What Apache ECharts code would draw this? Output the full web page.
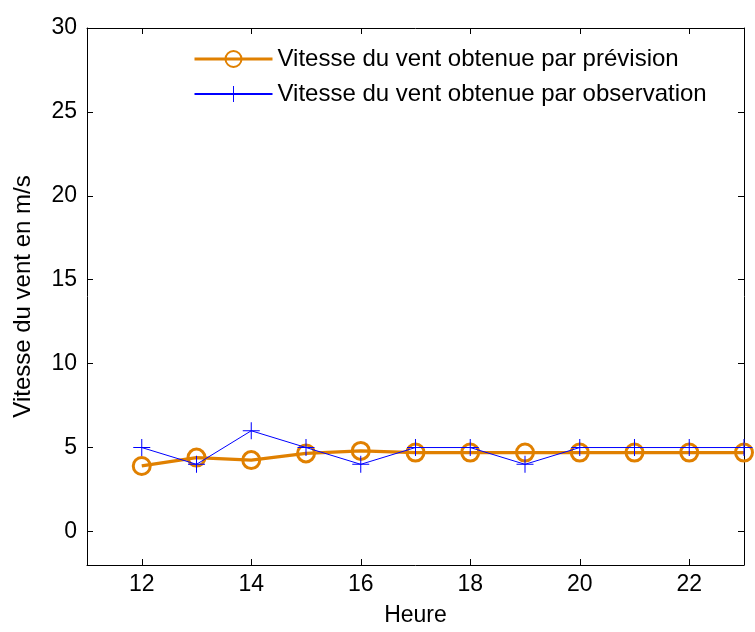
<!DOCTYPE html>
<html>
<head>
<meta charset="utf-8">
<script src="https://cdn.jsdelivr.net/npm/echarts@6/dist/echarts.min.js"></script>
<style>html,body{margin:0;padding:0;background:#fff;}#c{width:755px;height:632px;}</style>
</head>
<body>
<div id="c"></div>
<script>
var hours = [12, 13, 14, 15, 16, 17, 18, 19, 20, 21, 22, 23];
var prevision = [3.9, 4.4, 4.25, 4.65, 4.8, 4.7, 4.7, 4.7, 4.7, 4.7, 4.7, 4.7];
var observation = [5, 4, 6, 5, 4, 5, 5, 4, 5, 5, 5, 5];
var xTicks = [12, 14, 16, 18, 20, 22];
var yTicks = [0, 5, 10, 15, 20, 25, 30];
var seriesNames = ['Vitesse du vent obtenue par prévision', 'Vitesse du vent obtenue par observation'];
var xName = 'Heure';
var yName = 'Vitesse du vent en m/s';

var FONT = 'Liberation Sans, Arial, sans-serif';
var plusPath = 'path://M-0.06,-1 L0.06,-1 L0.06,-0.06 L1,-0.06 L1,0.06 L0.06,0.06 L0.06,1 L-0.06,1 L-0.06,0.06 L-1,0.06 L-1,-0.06 L-0.06,-0.06 Z';

function pairs(xs, ys) { return xs.map(function (x, i) { return [x, ys[i]]; }); }

var axisCommon = {
  axisLine: { show: true, onZero: false, lineStyle: { color: '#000', width: 1 } },
  splitLine: { show: false }
};
var tickStyle = function (vals) {
  return { inside: true, length: 6, lineStyle: { color: '#000' }, customValues: vals };
};

var chart = echarts.init(document.getElementById('c'), null, { renderer: 'canvas' });
chart.setOption({
  animation: false,
  backgroundColor: '#fff',
  grid: { left: 87, top: 28, right: 11, bottom: 62, containLabel: false },
  legend: {
    orient: 'vertical', left: 193, top: 47, padding: 0,
    itemWidth: 78, itemHeight: 20, itemGap: 11,
    textStyle: { fontFamily: FONT, fontSize: 24, color: '#000' },
    data: [
      { name: seriesNames[0], lineStyle: { width: 3 } },
      { name: seriesNames[1] }
    ]
  },
  xAxis: [
    Object.assign({}, axisCommon, {
      type: 'value', min: 11, max: 23, position: 'bottom',
      name: xName, nameLocation: 'middle', nameGap: 39,
      nameTextStyle: { fontFamily: FONT, fontSize: 23, color: '#000' },
      axisTick: tickStyle(xTicks),
      axisLabel: { customValues: xTicks, margin: 8, fontFamily: FONT, fontSize: 23, color: '#000' }
    }),
    Object.assign({}, axisCommon, {
      type: 'value', min: 11, max: 23, position: 'top',
      axisTick: tickStyle(xTicks),
      axisLabel: { show: false }
    })
  ],
  yAxis: [
    Object.assign({}, axisCommon, {
      type: 'value', min: -2, max: 30, position: 'left',
      name: yName, nameLocation: 'middle', nameGap: 52,
      nameTextStyle: { fontFamily: FONT, fontSize: 24, color: '#000' },
      axisTick: tickStyle(yTicks),
      axisLabel: { customValues: yTicks, margin: 10, fontFamily: FONT, fontSize: 23, color: '#000' }
    }),
    Object.assign({}, axisCommon, {
      type: 'value', min: -2, max: 30, position: 'right',
      axisTick: tickStyle(yTicks),
      axisLabel: { show: false }
    })
  ],
  series: [
    {
      name: seriesNames[0], type: 'line', data: pairs(hours, prevision),
      symbol: 'circle', symbolSize: 17, showAllSymbol: true,
      lineStyle: { color: '#E08000', width: 3.3 },
      itemStyle: { color: 'rgba(0,0,0,0)', borderColor: '#E08000', borderWidth: 3 },
      z: 2
    },
    {
      name: seriesNames[1], type: 'line', data: pairs(hours, observation),
      symbol: plusPath, symbolSize: 17, showAllSymbol: true,
      lineStyle: { color: '#0000FF', width: 1 },
      itemStyle: { color: '#0000FF' },
      z: 3
    }
  ]
});
</script>
</body>
</html>
